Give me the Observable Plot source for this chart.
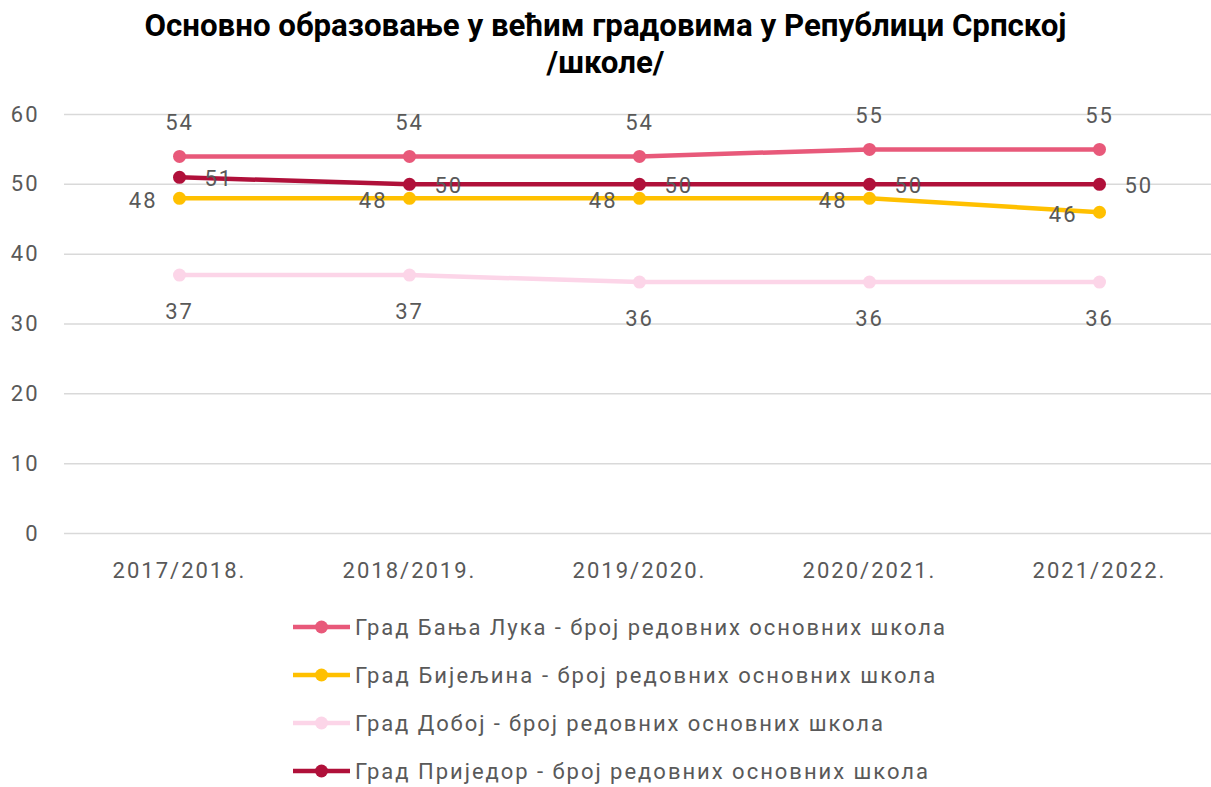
<!DOCTYPE html>
<html>
<head>
<meta charset="utf-8">
<script src="https://cdn.jsdelivr.net/npm/d3@7"></script>
<script src="https://cdn.jsdelivr.net/npm/@observablehq/plot@0.6"></script>
<style>
  html, body { margin: 0; padding: 0; background: #fff; }
  body { width: 1211px; height: 787px; overflow: hidden; font-family: Roboto, "Noto Sans", sans-serif; }
  #title { height: 90px; box-sizing: border-box; padding-top: 7px; text-align: center; font-weight: 700; font-size: 31px; line-height: 37px; color: #000; }
  #title span { display: inline-block; white-space: nowrap; transform-origin: center; }
  #chart { height: 505px; }
  #legend { padding-top: 8px; margin-left: 293px; }
  .row { height: 48px; display: flex; align-items: center; }
  .row span { font-size: 22px; color: #595959; margin-left: 5px; white-space: nowrap; }
</style>
</head>
<body>
<div id="title"><span id="t1">Основно образовање у већим градовима у Републици Српској</span><br><span id="t2">/школе/</span></div>
<div id="chart"></div>
<div id="legend"></div>
<script>
const categories = ["2017/2018.", "2018/2019.", "2019/2020.", "2020/2021.", "2021/2022."];
const seriesNames = [
  "Град Бања Лука - број редовних основних школа",
  "Град Бијељина - број редовних основних школа",
  "Град Добој - број редовних основних школа",
  "Град Приједор - број редовних основних школа"
];
const banjaLuka = [54, 54, 54, 55, 55];
const bijeljina = [48, 48, 48, 48, 46];
const doboj = [37, 37, 36, 36, 36];
const prijedor = [51, 50, 50, 50, 50];
const seriesColors = ["#E8597A", "#FFC000", "#FCD5E8", "#B0103A"];
const yTicks = [0, 10, 20, 30, 40, 50, 60];

const allValues = [banjaLuka, bijeljina, doboj, prijedor];
const rows = allValues.flatMap((vals, si) =>
  vals.map((v, i) => ({ year: categories[i], value: v, series: seriesNames[si] })));
const bySeries = name => rows.filter(d => d.series === name);

// fit title width
(function () {
  const c = document.createElement("canvas").getContext("2d");
  c.font = "700 31px Roboto";
  const w = c.measureText(document.getElementById("t1").textContent).width;
  const s = 922 / w;
  document.getElementById("t1").style.transform = `scaleX(${s})`;
  document.getElementById("t2").style.transform = `scaleX(${s})`;
})();

const labelStyle = { fill: "#595959", fontSize: 22 };

const chart = Plot.plot({
  width: 1211,
  height: 505,
  marginTop: 24,
  marginBottom: 62,
  marginLeft: 64,
  marginRight: 0,
  style: { fontFamily: "Roboto, sans-serif", fontSize: "22px", color: "#595959", background: "white", letterSpacing: "2px" },
  x: { type: "point", domain: categories, range: [179, 1099], padding: 0 },
  y: { domain: [0, 60] },
  color: { domain: seriesNames, range: seriesColors },
  marks: [
    Plot.gridY(yTicks, { stroke: "#d9d9d9", strokeOpacity: 1, strokeWidth: 1.5 }),
    Plot.axisY(yTicks, { tickSize: 0, tickPadding: 25, label: null, fontSize: 22 }),
    Plot.axisX({ tickSize: 0, tickPadding: 29, label: null, fontSize: 22 }),
    ...seriesNames.map(n => Plot.line(bySeries(n), { x: "year", y: "value", stroke: "series", strokeWidth: 4.5 })),
    ...seriesNames.map(n => Plot.dot(bySeries(n), { x: "year", y: "value", fill: "series", r: 6.5 })),
    Plot.text(bySeries(seriesNames[0]), { x: "year", y: "value", text: d => String(d.value), dy: -33, ...labelStyle }),
    Plot.text(bySeries(seriesNames[1]), { x: "year", y: "value", text: d => String(d.value), dx: -22, dy: 3, textAnchor: "end", ...labelStyle }),
    Plot.text(bySeries(seriesNames[2]), { x: "year", y: "value", text: d => String(d.value), dy: 37, ...labelStyle }),
    Plot.text(bySeries(seriesNames[3]), { x: "year", y: "value", text: d => String(d.value), dx: 25, dy: 2, textAnchor: "start", ...labelStyle })
  ]
});
document.getElementById("chart").appendChild(chart);

// legend
const legend = document.getElementById("legend");
const c2 = document.createElement("canvas").getContext("2d");
c2.font = "22px Roboto";
seriesNames.forEach((n, i) => {
  const row = document.createElement("div");
  row.className = "row";
  const ns = "http://www.w3.org/2000/svg";
  const svg = document.createElementNS(ns, "svg");
  svg.setAttribute("width", 57); svg.setAttribute("height", 48);
  const ln = document.createElementNS(ns, "line");
  ln.setAttribute("x1", 0); ln.setAttribute("x2", 57); ln.setAttribute("y1", 24); ln.setAttribute("y2", 24);
  ln.setAttribute("stroke", seriesColors[i]); ln.setAttribute("stroke-width", 4.5);
  const ci = document.createElementNS(ns, "circle");
  ci.setAttribute("cx", 28.5); ci.setAttribute("cy", 24); ci.setAttribute("r", 6.5); ci.setAttribute("fill", seriesColors[i]);
  svg.appendChild(ln); svg.appendChild(ci);
  const sp = document.createElement("span");
  sp.textContent = n;
  const w = c2.measureText(n).width;
  const target = [592, 582, 530, 575][i];
  sp.style.letterSpacing = Math.max(0, (target - w) / n.length).toFixed(2) + "px";
  row.appendChild(svg); row.appendChild(sp);
  legend.appendChild(row);
});
</script>
</body>
</html>
